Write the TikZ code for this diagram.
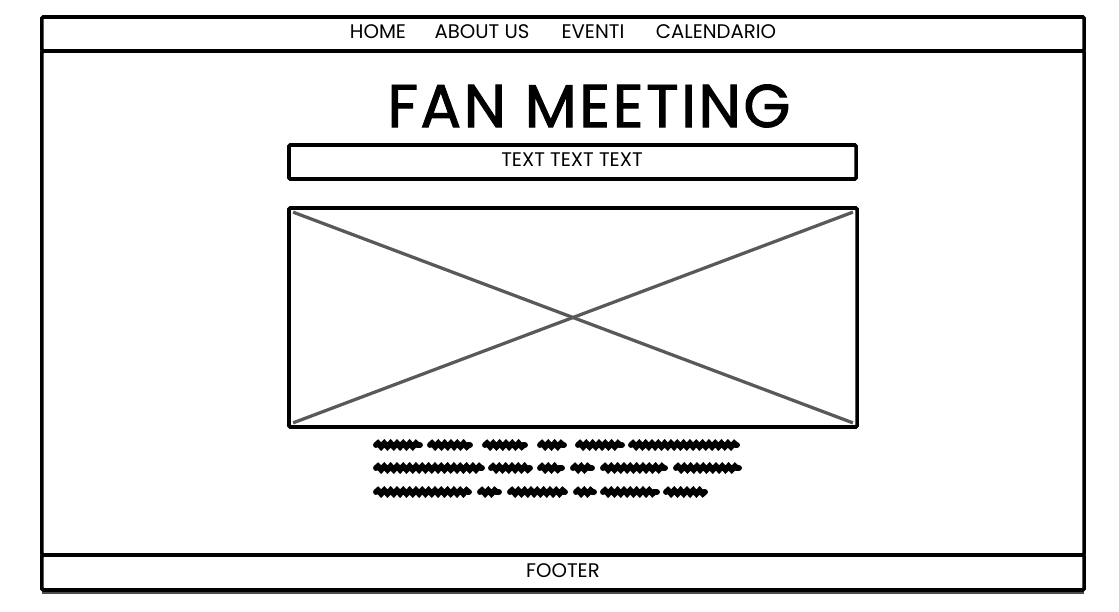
\documentclass[tikz,border=0pt]{standalone}
\usepackage{fontspec}
\setmainfont{Poppins}
\newfontfamily\titlefont[LetterSpace=4, BoldFont=Poppins, BoldFeatures={FakeBold=1.6}]{Poppins}
\usetikzlibrary{decorations.pathmorphing}

\begin{document}
\begin{tikzpicture}[
  x=0.025cm, y=-0.025cm,
  frame/.style={draw, line width=2.6pt, fill=white, rounded corners=1pt,
                inner sep=0pt},
  navtext/.style={font=\fontsize{14}{16}\selectfont},
  cross/.style={draw=black!65, line width=2.3pt},
  scrib/.style={line width=4.2pt, line cap=round,
                decorate, decoration={snake, segment length=4.5pt, amplitude=1.2pt}}
]
  \useasboundingbox (0,0) rectangle (1119,612);

  % page frame
  \node[frame, minimum width=26.05cm, minimum height=12.6cm] (page) at (563,303) {};
  \draw[line width=0.8pt, black!70] (42,593) -- (1084,593);

  % top bar
  \node[frame, minimum width=26.05cm, minimum height=0.85cm] (nav) at (563,34) {};
  \node[navtext] (home)  at (378,32) {HOME};
  \node[navtext] (about) at (482,32) {ABOUT US};
  \node[navtext] (eventi) at (593,32) {EVENTI};
  \node[navtext] (cal)   at (716,32) {CALENDARIO};

  % title
  \node[font=\titlefont\bfseries\fontsize{43}{46}\selectfont] (title) at (589,106) {FAN MEETING};

  \node[frame, minimum width=14.175cm, minimum height=0.85cm] (sub) at (572.5,162) {};
  \node[navtext] (subtext) at (572,160) {TEXT TEXT TEXT};

  % image placeholder
  \node[frame, minimum width=14.2cm, minimum height=5.475cm] (img) at (573,317.5) {};
  \draw[cross] ([shift={(0.15cm,-0.15cm)}]img.north west) -- ([shift={(-0.15cm,0.15cm)}]img.south east);
  \draw[cross] ([shift={(0.15cm,0.15cm)}]img.south west) -- ([shift={(-0.15cm,-0.15cm)}]img.north east);

  % scribbled text
  \foreach \a/\b in {376/420, 430/470, 485/525, 540/564, 578/622, 631/737}
    \draw[scrib] (\a,445) -- (\b,445);
  \foreach \a/\b in {376/482, 491/530, 540/562, 573/592, 603/665, 676/739}
    \draw[scrib] (\a,468) -- (\b,468);
  \foreach \a/\b in {376/469, 480/499, 510/565, 576/594, 603/657, 666/705}
    \draw[scrib] (\a,492) -- (\b,492);

  % footer
  \node[frame, minimum width=26.05cm, minimum height=0.875cm] (foot) at (563,572.5) {};
  \node[navtext] (foottext) at (563,571) {FOOTER};
\end{tikzpicture}
\end{document}
